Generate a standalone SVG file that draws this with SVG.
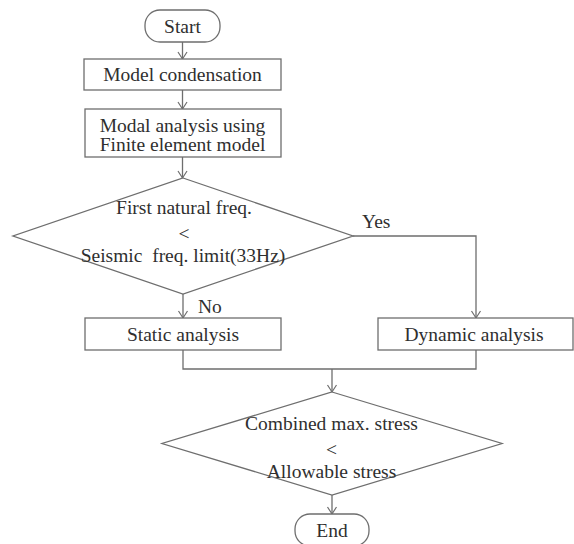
<svg xmlns="http://www.w3.org/2000/svg" width="574" height="544" viewBox="0 0 574 544">
<style>
.shape{fill:#fff;stroke:#6e6e6e;stroke-width:1.3}
.line{fill:none;stroke:#6e6e6e;stroke-width:1.3}
text{font-family:"Liberation Serif","Times New Roman",serif;font-size:19.5px;fill:#2f2f2f}
.c{text-anchor:middle}
</style>
<defs>
<marker id="arr" viewBox="-1 -6 10 12" refX="7" refY="0" markerWidth="10" markerHeight="12" markerUnits="userSpaceOnUse" orient="auto">
<path d="M0,-4.5 L7,0 L0,4.5" fill="none" stroke="#6e6e6e" stroke-width="1.2"/>
</marker>
</defs>
<rect width="574" height="544" fill="#fff"/>
<g id="connectors">
<line class="line" x1="182.5" y1="42" x2="182.5" y2="59" marker-end="url(#arr)"/>
<line class="line" x1="182.5" y1="90" x2="182.5" y2="109" marker-end="url(#arr)"/>
<line class="line" x1="182.5" y1="157" x2="182.5" y2="178" marker-end="url(#arr)"/>
<line class="line" x1="183" y1="294" x2="183" y2="318" marker-end="url(#arr)"/>
<polyline class="line" points="353,236 476,236 476,318" marker-end="url(#arr)"/>
<polyline class="line" points="183,350 183,369 476,369 476,350"/>
<line class="line" x1="332" y1="369" x2="332" y2="392" marker-end="url(#arr)"/>
<line class="line" x1="332" y1="495" x2="332" y2="514" marker-end="url(#arr)"/>
<text x="362" y="228">Yes</text>
<text x="198" y="313">No</text>
</g>
<g id="start">
<rect class="shape" x="145" y="10" width="75" height="32" rx="15"/>
<text class="c" x="182.5" y="33">Start</text>
</g>
<g id="condensation">
<rect class="shape" x="84" y="59" width="197" height="31"/>
<text class="c" x="182.5" y="81">Model condensation</text>
</g>
<g id="modal">
<rect class="shape" x="85" y="109" width="196" height="48"/>
<text class="c" x="182.5" y="132">Modal analysis using</text>
<text class="c" x="182.5" y="151">Finite element model</text>
</g>
<g id="decision1">
<polygon class="shape" points="183,178 353,236 183,294 13,236"/>
<text class="c" x="184" y="214">First natural freq.</text>
<text class="c" x="184" y="240">&lt;</text>
<text class="c" x="183" y="262" xml:space="preserve">Seismic  freq. limit(33Hz)</text>
</g>
<g id="static">
<rect class="shape" x="85" y="318" width="196" height="32"/>
<text class="c" x="183" y="341">Static analysis</text>
</g>
<g id="dynamic">
<rect class="shape" x="378" y="318" width="195" height="32"/>
<text class="c" x="474" y="341">Dynamic analysis</text>
</g>
<g id="decision2">
<polygon class="shape" points="332,392 502,443.5 332,495 162,443.5"/>
<text class="c" x="331.5" y="430">Combined max. stress</text>
<text class="c" x="331.5" y="456">&lt;</text>
<text class="c" x="331.5" y="478">Allowable stress</text>
</g>
<g id="end">
<rect class="shape" x="295" y="514" width="74" height="32" rx="15"/>
<text class="c" x="332" y="537">End</text>
</g>
</svg>
